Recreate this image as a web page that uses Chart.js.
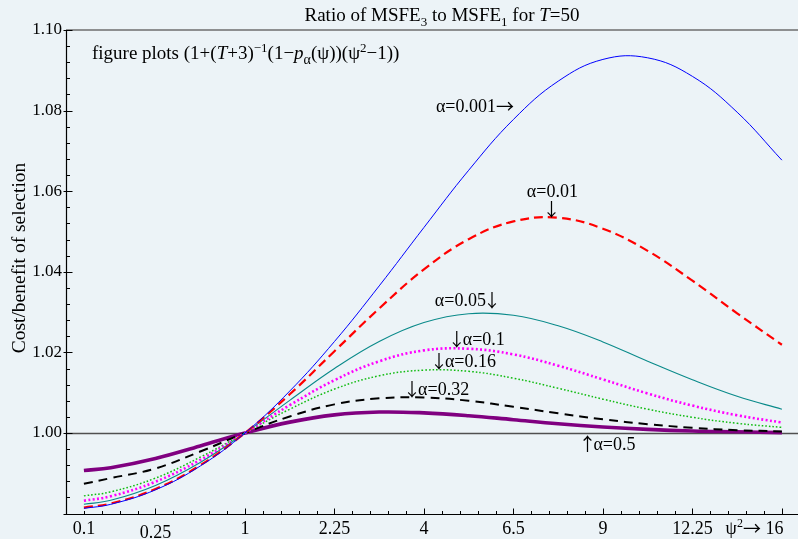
<!DOCTYPE html>
<html><head><meta charset="utf-8">
<script src="https://cdn.jsdelivr.net/npm/chart.js@4.4.1/dist/chart.umd.min.js"></script>
<style>html,body{margin:0;padding:0;background:#ecf3f7;}#wrap{width:798px;height:539px;position:relative;}</style>
</head><body><div id="wrap"><canvas id="c" width="798" height="539"></canvas></div>
<script>
// x positions are psi (axis is linear in psi; labels show psi^2)
const psi = [0.1, 0.25, 0.5, 0.75, 1.0, 1.25, 1.5, 1.75, 2.0, 2.25, 2.5, 2.75, 3.0, 3.25, 3.5, 3.75, 4.0];
const a0001 = [0.9813, 0.9823, 0.9859, 0.9918, 1.0000, 1.0104, 1.0227, 1.0365, 1.0510, 1.0652, 1.0778, 1.0873, 1.0927, 1.0931, 1.0885, 1.0796, 1.0677];
const a001  = [0.9815, 0.9825, 0.9861, 0.9920, 1.0000, 1.0096, 1.0203, 1.0309, 1.0406, 1.0481, 1.0525, 1.0534, 1.0507, 1.0452, 1.0378, 1.0297, 1.0219];
const a005  = [0.9823, 0.9833, 0.9870, 0.9927, 1.0000, 1.0081, 1.0160, 1.0227, 1.0274, 1.0296, 1.0292, 1.0266, 1.0226, 1.0178, 1.0132, 1.0091, 1.0059];
const a010  = [0.9832, 0.9843, 0.9879, 0.9933, 1.0000, 1.0069, 1.0131, 1.0178, 1.0205, 1.0209, 1.0195, 1.0167, 1.0133, 1.0098, 1.0068, 1.0044, 1.0026];
const a016  = [0.9844, 0.9854, 0.9888, 0.9940, 1.0000, 1.0059, 1.0109, 1.0142, 1.0156, 1.0153, 1.0136, 1.0111, 1.0084, 1.0059, 1.0039, 1.0024, 1.0014];
const a032  = [0.9874, 0.9888, 0.9912, 0.9954, 1.0000, 1.0041, 1.0071, 1.0086, 1.0088, 1.0080, 1.0065, 1.0049, 1.0034, 1.0022, 1.0013, 1.0007, 1.0004];
const a050  = [0.9907, 0.9914, 0.9937, 0.9968, 1.0000, 1.0027, 1.0045, 1.0052, 1.0050, 1.0043, 1.0033, 1.0023, 1.0015, 1.0009, 1.0005, 1.0003, 1.0001];
const seriesNames = ['α=0.001', 'α=0.01', 'α=0.05', 'α=0.1', 'α=0.16', 'α=0.32', 'α=0.5'];
const yTickValues = [1.00, 1.02, 1.04, 1.06, 1.08, 1.10];
const xTickValues = [0.1, 0.5, 1, 1.5, 2, 2.5, 3, 3.5, 4];
const xTickLabels = ['0.1', '0.25', '1', '2.25', '4', '6.5', '9', '12.25', '16'];
const refValue = 1.00;

const FAM = "'Liberation Serif','Times New Roman',serif";
const F = (s, st) => (st ? st + ' ' : '') + s + 'px ' + FAM;
const FA = s => s + "px 'Noto Sans CJK JP','DejaVu Sans',sans-serif";
const BG = 'rgb(236,243,247)';

const styles = [
  {c:'#0000ff', w:1, d:[]},
  {c:'#ff0000', w:2.2, d:[9,5]},
  {c:'#0a8a8a', w:1.1, d:[]},
  {c:'#ff00ff', w:2.6, d:[2,2.4]},
  {c:'#11bb11', w:1.5, d:[1.6,2]},
  {c:'#000000', w:2, d:[9,6]},
  {c:'#800080', w:3.6, d:[]}
];
const allSeries = [a0001, a001, a005, a010, a016, a032, a050];

// annotation texts anchored in data coordinates (psi, value)
const T = t => ({t, f:F(18)});
const A = t => ({t, f:FA(18), dy:1});
const V = t => ({t, f:FA(18), dy:1, adv:12, off:-3});   // vertical arrows: narrower advance
const annos = [
  {p:[T('α=0.001'), A('→')], x:2.067, y:1.0797, al:'left'},
  {p:[T('α=0.01')],          x:2.575, y:1.0586, al:'left'},
  {p:[A('↓')],               x:2.712, y:1.0540, al:'center'},
  {p:[T('α=0.05'), V('↓')],  x:2.061, y:1.0315, al:'left'},
  {p:[V('↓'), T('α=0.1')],   x:2.150, y:1.0218, al:'left'},
  {p:[V('↓'), T('α=0.16')],  x:2.050, y:1.0164, al:'left'},
  {p:[V('↓'), T('α=0.32')],  x:1.900, y:1.0094, al:'left'},
  {p:[V('↑'), T('α=0.5')],   x:2.880, y:0.9958, al:'left'}
];

function pw(ctx, p){ ctx.font=p.f; return p.adv!=null ? p.adv : ctx.measureText(p.t).width; }
function richW(ctx, parts){ let w=0; for(const p of parts){ w+=pw(ctx,p); } return w; }
function drawRich(ctx, x, y, parts, align){
  const w = richW(ctx, parts);
  let cx = align==='center' ? x-w/2 : align==='right' ? x-w : x;
  ctx.textAlign='left';
  for(const p of parts){ const adv = pw(ctx,p); ctx.fillText(p.t, cx+(p.off||0), y+(p.dy||0)); cx += adv; }
}

const decor = {
  id:'decor',
  beforeDraw(chart){
    const ctx = chart.ctx; ctx.save(); ctx.fillStyle=BG; ctx.fillRect(0,0,chart.width,chart.height); ctx.restore();
  },
  beforeDatasetsDraw(chart){
    const {ctx, chartArea:a, scales:{y}} = chart;
    const yy = Math.round(y.getPixelForValue(refValue)) + 0.5;
    ctx.save(); ctx.strokeStyle='#505050'; ctx.lineWidth=1.3;
    ctx.beginPath(); ctx.moveTo(a.left, yy); ctx.lineTo(a.right, yy); ctx.stroke(); ctx.restore();
  },
  afterDraw(chart){
    const {ctx, chartArea:a, scales:{x,y}} = chart;
    ctx.save();
    // frame
    ctx.strokeStyle='#6e6e6e'; ctx.lineWidth=1.6;
    ctx.beginPath(); ctx.moveTo(a.left, a.top); ctx.lineTo(a.right, a.top); ctx.stroke();
    ctx.strokeStyle='#000'; ctx.lineWidth=1.2;
    const L = Math.round(a.left)+0.5, B = Math.round(a.bottom)+0.5;
    ctx.beginPath(); ctx.moveTo(L, a.top); ctx.lineTo(L, B); ctx.lineTo(a.right, B); ctx.stroke();
    // y ticks
    ctx.lineWidth=1;
    for(let i=0;i<=30;i++){
      const v = y.min + i*0.004;
      const py = Math.round(y.getPixelForValue(v))+0.5;
      const major = i%5===0;
      ctx.beginPath(); ctx.moveTo(major? L-3 : L, py); ctx.lineTo(L + (major?6:3.5), py); ctx.stroke();
    }
    // x ticks
    for(let i=1;i<=40;i++){
      const v = i*0.1;
      const px = Math.round(x.getPixelForValue(v))+0.5;
      const major = i%5===0;
      ctx.beginPath(); ctx.moveTo(px, B); ctx.lineTo(px, B-(major?6:3.5)); ctx.stroke();
    }
    // x labels
    ctx.fillStyle='#000'; ctx.textBaseline='alphabetic';
    xTickValues.forEach((v,i)=>{
      const px = x.getPixelForValue(v);
      const lab = xTickLabels[i];
      if(i===xTickLabels.length-1){
        drawRich(ctx, px+1.5, 534, [{t:'ψ',f:F(18)},{t:'2',f:F(12),dy:-7},{t:'→',f:FA(18),dy:1},{t:' '+lab,f:F(18)}], 'right');
      } else {
        ctx.font=F(18); ctx.textAlign='center';
        ctx.fillText(lab, px, lab==='0.25'?538:534);
        ctx.textAlign='left';
      }
    });
    // y title
    ctx.save();
    ctx.translate(20, 258); ctx.rotate(-Math.PI/2);
    ctx.font=F(19.5); ctx.textAlign='center'; ctx.textBaseline='middle';
    ctx.fillText('Cost/benefit of selection', 0, 0);
    ctx.restore();
    // title
    drawRich(ctx, 442, 21, [
      {t:'Ratio of MSFE',f:F(19)},{t:'3',f:F(13),dy:5},{t:' to MSFE',f:F(19)},{t:'1',f:F(13),dy:5},
      {t:' for ',f:F(19)},{t:'T',f:F(19,'italic')},{t:'=50',f:F(19)}], 'center');
    // formula note
    drawRich(ctx, x.getPixelForValue(0.145), y.getPixelForValue(1.0928), [
      {t:'figure plots (1+(',f:F(19)},{t:'T',f:F(19,'italic')},{t:'+3)',f:F(19)},{t:'−1',f:F(13),dy:-7},
      {t:'(1−',f:F(19)},{t:'p',f:F(19,'italic')},{t:'α',f:F(14),dy:5},{t:'(ψ))(ψ',f:F(19)},
      {t:'2',f:F(13),dy:-7},{t:'−1))',f:F(19)}], 'left');
    // series annotations
    annos.forEach(n=>{
      drawRich(ctx, x.getPixelForValue(n.x), y.getPixelForValue(n.y), n.p, n.al);
    });
    ctx.restore();
  }
};

new Chart(document.getElementById('c'), {
  type:'line',
  data:{
    datasets: allSeries.map((s,i)=>({
      label: seriesNames[i],
      data: psi.map((p,j)=>({x:p, y:s[j]})),
      borderColor: styles[i].c, borderWidth: styles[i].w, borderDash: styles[i].d,
      pointRadius:0, tension:0.4, fill:false
    }))
  },
  options:{
    responsive:false, animation:false, devicePixelRatio:1,
    layout:{padding:{top:30, right:0, bottom:25.4, left:0}},
    plugins:{legend:{display:false}, tooltip:{enabled:false}, title:{display:false}},
    scales:{
      x:{type:'linear', min:0, max:4.09, display:false},
      y:{type:'linear', min:0.98, max:1.10, position:'left',
         afterFit(s){ s.width = 66; },
         afterBuildTicks(s){ s.ticks = yTickValues.map(v=>({value:v})); },
         ticks:{callback:v=>Number(v).toFixed(2), font:{family:FAM, size:17}, color:'#000', padding:4, autoSkip:false},
         grid:{display:false, drawTicks:false}, border:{display:false}}
    }
  },
  plugins:[decor]
});
</script></body></html>
